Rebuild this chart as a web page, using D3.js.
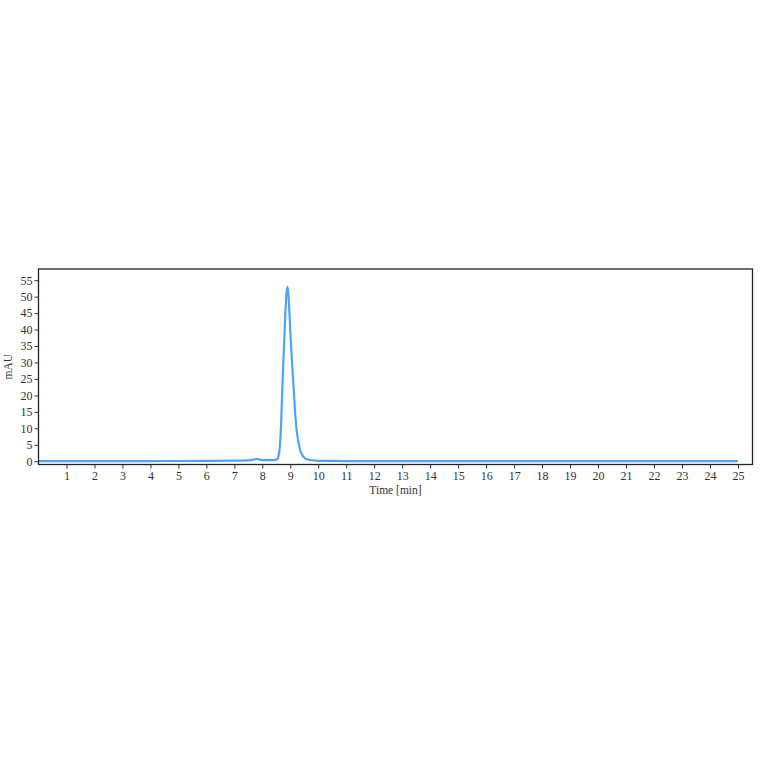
<!DOCTYPE html>
<html lang="en">
<head>
  <meta charset="UTF-8">
  <title>Chromatogram</title>
  <script src="https://d3js.org/d3.v7.min.js"></script>
  <style>
    body { margin: 0; background: #fff; }
    svg { display: block; }
    .tick text { font-family: 'Liberation Serif', serif; font-size: 12px; fill: #333; }
    .label { font-family: 'Liberation Serif', serif; font-size: 11.5px; fill: #333; }
  </style>
</head>
<body>
  <svg id="chart" width="764" height="764"></svg>
  <script>
    // retention time (min) and absorbance (mAU)
    const times = [0, 2, 4, 6, 7, 7.5, 7.7, 7.8, 7.9, 8.1, 8.3, 8.5, 8.55, 8.6, 8.63, 8.67, 8.71, 8.75, 8.8, 8.85, 8.89, 8.93, 8.97, 9.02, 9.07, 9.12, 9.17, 9.22, 9.28, 9.35, 9.43, 9.52, 9.65, 9.9, 10.5, 11, 14, 18, 22, 25];
    const mAU   = [0, 0, 0.05, 0.1, 0.15, 0.25, 0.5, 0.7, 0.5, 0.3, 0.3, 0.5, 0.8, 2.5, 5, 11, 21, 30, 40, 49.5, 53, 51, 45, 36, 29, 22, 15, 10, 6.3, 3.5, 1.8, 0.9, 0.45, 0.2, 0.1, 0.05, 0, 0, 0.05, 0];
    const xTicks = d3.range(1, 26);
    const yTicks = d3.range(0, 60, 5);

    const margin = { left: 38.5, right: 11.5, top: 269, bottom: 300 };
    const W = 764, H = 764;
    const svg = d3.select("#chart");

    const x = d3.scaleLinear().domain([0, 25.52]).range([margin.left, W - margin.right]);
    const y = d3.scaleLinear().domain([-1.0, 58.4]).range([464.5, margin.top]);

    const line = d3.line().x((d, i) => x(times[i])).y(d => y(d)).curve(d3.curveMonotoneX);

    svg.append("path")
      .datum(mAU)
      .attr("d", line)
      .attr("fill", "none")
      .attr("stroke", "#4da3f7")
      .attr("stroke-width", 2.2)
      .attr("stroke-linejoin", "round");

    // frame
    svg.append("rect")
      .attr("x", x(0)).attr("y", y(58.4))
      .attr("width", x(25.52) - x(0)).attr("height", y(-1.0) - y(58.4))
      .attr("fill", "none").attr("stroke", "#222").attr("stroke-width", 1.3);

    const xAxis = svg.append("g")
      .attr("transform", `translate(0,${y(-1.0)})`)
      .call(d3.axisBottom(x).tickValues(xTicks).tickSize(4).tickPadding(3));
    xAxis.select(".domain").remove();

    const yAxis = svg.append("g")
      .attr("transform", `translate(${x(0)},0)`)
      .call(d3.axisLeft(y).tickValues(yTicks).tickSize(4).tickPadding(2));
    yAxis.select(".domain").remove();

    svg.selectAll(".tick line").attr("stroke", "#333");

    svg.append("text").attr("class", "label")
      .attr("x", (x(0) + x(25.52)) / 2).attr("y", 494)
      .attr("text-anchor", "middle").text("Time [min]");

    svg.append("text").attr("class", "label")
      .attr("transform", `translate(12,${y(28.7)}) rotate(-90)`)
      .attr("text-anchor", "middle").text("mAU");
  </script>
</body>
</html>
